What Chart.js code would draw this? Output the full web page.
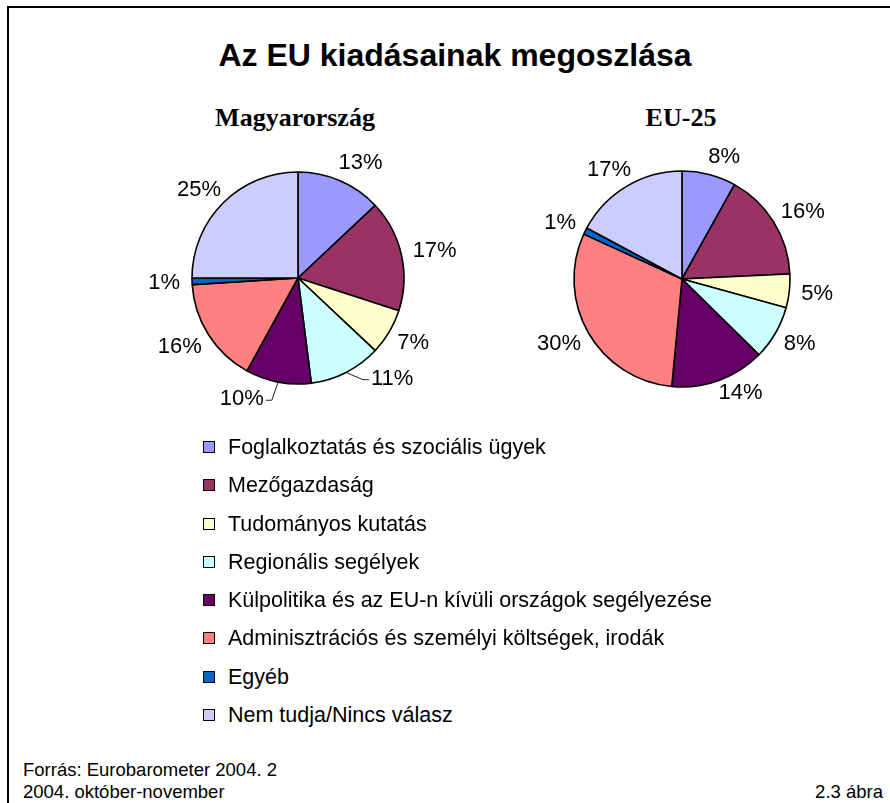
<!DOCTYPE html>
<html>
<head>
<meta charset="utf-8">
<script src="https://cdn.jsdelivr.net/npm/chart.js@4"></script>
<style>
  html, body { margin:0; padding:0; background:#fff; }
  #wrap { position:relative; width:890px; height:803px; overflow:hidden; font-family:"Liberation Sans", Arial, sans-serif; color:#000; }
  #frame { position:absolute; left:7px; top:6px; width:900px; height:900px; border-left:2px solid #000; border-top:2px solid #000; }
  .t { position:absolute; white-space:nowrap; line-height:1; }
  #title { left:0; width:910px; text-align:center; top:39px; font-size:32px; font-weight:bold; }
  .sub { font-family:"Liberation Serif", "Times New Roman", serif; font-weight:bold; font-size:26px; top:105px; width:300px; text-align:center; }
  canvas { position:absolute; }
  #legend { position:absolute; left:203px; top:428px; }
  .li { position:relative; height:38.3px; font-size:21.5px; line-height:38.3px; white-space:nowrap; }
  .li .sq { position:absolute; left:0; top:13px; width:10px; height:10px; border:1px solid #000; }
  .li .tx { position:absolute; left:25px; top:0; }
  .foot { font-size:18.5px; }
</style>
</head>
<body>
<div id="wrap">
  <div id="frame"></div>
  <div class="t" id="title">Az EU kiadásainak megoszlása</div>
  <div class="t sub" id="sub1" style="left:145px">Magyarország</div>
  <div class="t sub" id="sub2" style="left:531px">EU-25</div>
  <canvas id="hu" width="320" height="320" style="left:138px; top:118px"></canvas>
  <canvas id="eu" width="320" height="320" style="left:522px; top:119px"></canvas>
  <div id="legend"></div>
  <div class="t foot" style="left:23px; top:761px">Forrás: Eurobarometer 2004. 2</div>
  <div class="t foot" style="left:23px; top:783px">2004. október-november</div>
  <div class="t foot" style="right:7px; top:783px">2.3 ábra</div>
</div>
<script>
const categories = [
  'Foglalkoztatás és szociális ügyek',
  'Mezőgazdaság',
  'Tudományos kutatás',
  'Regionális segélyek',
  'Külpolitika és az EU-n kívüli országok segélyezése',
  'Adminisztrációs és személyi költségek, irodák',
  'Egyéb',
  'Nem tudja/Nincs válasz'
];
const colors = ['#9999FF','#993366','#FFFFCC','#CCFFFF','#660066','#FF8080','#0066CC','#CCCCFF'];
const huValues = [13, 17, 7, 11, 10, 16, 1, 25];
const euValues = [8, 16, 5, 8, 14, 30, 1, 17];

const pctLabels = {
  id: 'pctLabels',
  afterDatasetsDraw(chart, args, opts) {
    const ctx = chart.ctx;
    const meta = chart.getDatasetMeta(0);
    const data = chart.data.datasets[0].data;
    ctx.save();
    ctx.font = opts.font;
    ctx.fillStyle = '#000';
    ctx.textAlign = 'center';
    ctx.textBaseline = 'middle';
    meta.data.forEach((arc, i) => {
      const p = arc.getProps(['x','y','startAngle','endAngle','outerRadius'], true);
      const mid = (p.startAngle + p.endAngle) / 2;
      const c = Math.cos(mid), s = Math.sin(mid);
      const text = data[i] + '%';
      const w = ctx.measureText(text).width;
      const h = opts.textHeight;
      let lx = p.x + c * (p.outerRadius + opts.gap) + c * w / 2;
      let ly = p.y + s * (p.outerRadius + opts.gap) + s * h / 2;
      const n = (opts.nudge || {})[i];
      if (n) {
        lx += n[0]; ly += n[1];
        if (n[2]) {
          const ex = p.x + c * p.outerRadius, ey = p.y + s * p.outerRadius;
          const dir = lx > ex ? 1 : -1;
          const side = lx - dir * w / 2;
          ctx.beginPath();
          ctx.strokeStyle = '#222';
          ctx.lineWidth = 1;
          ctx.moveTo(ex, ey);
          ctx.lineTo(side - dir * 8, ly + 2);
          ctx.lineTo(side - dir * 2, ly + 2);
          ctx.stroke();
        }
      }
      ctx.fillText(text, lx, ly + 1);
    });
    ctx.restore();
  }
};

function makePie(id, values, radius, nudge) {
  return new Chart(document.getElementById(id), {
    type: 'pie',
    data: {
      labels: categories,
      datasets: [{
        data: values,
        backgroundColor: colors,
        borderColor: '#000',
        borderWidth: 1.6,
        radius: radius
      }]
    },
    options: {
      responsive: false,
      animation: false,
      layout: { padding: 0 },
      plugins: {
        legend: { display: false },
        tooltip: { enabled: false },
        pctLabels: { font: '22px "Liberation Sans", Arial, sans-serif', textHeight: 17, gap: 12, nudge: nudge }
      }
    },
    plugins: [pctLabels]
  });
}

const huChart = makePie('hu', huValues, 106, { 0: [7, 0, 0], 3: [31, -13, 1], 4: [-30, -4, 1] });
const euChart = makePie('eu', euValues, 108, { 0: [8, 1, 0], 4: [10, -8, 0] });

// legend from chart's own label generator
const legendEl = document.getElementById('legend');
huChart.options.plugins.legend.labels.generateLabels(huChart).forEach(item => {
  const row = document.createElement('div');
  row.className = 'li';
  const sq = document.createElement('span');
  sq.className = 'sq';
  sq.style.background = item.fillStyle;
  const tx = document.createElement('span');
  tx.className = 'tx';
  tx.textContent = item.text;
  row.appendChild(sq); row.appendChild(tx);
  legendEl.appendChild(row);
});
</script>
</body>
</html>
